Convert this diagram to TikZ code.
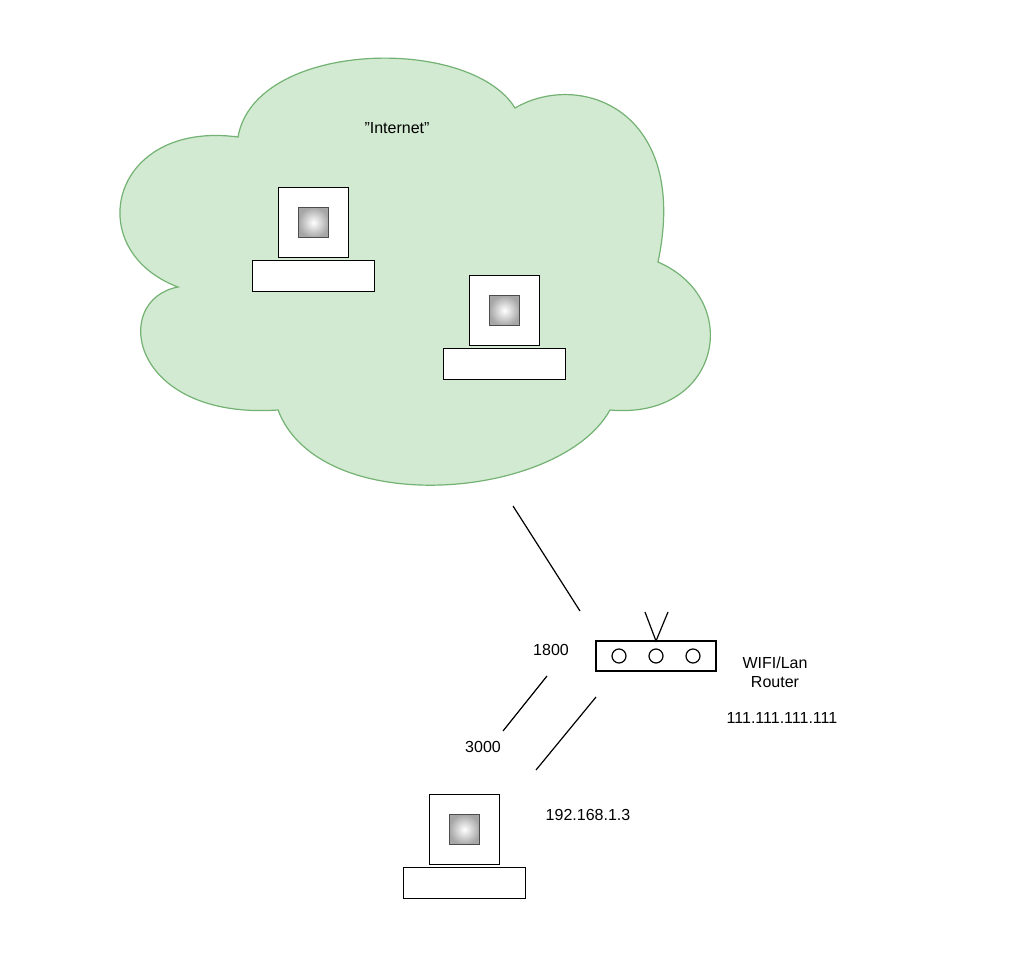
\documentclass[tikz,border=0pt]{standalone}
\usepackage{fontspec}
\setmainfont{Liberation Sans}
\begin{document}
\begin{tikzpicture}[x=0.75pt,y=-0.75pt,
  box/.style={draw=black,fill=white,line width=0.9pt},
  scr/.style={draw=black!70,inner color=white,outer color=black!35,line width=0.6pt},
  link/.style={draw=black,line width=0.9pt},
  lbl/.style={font=\fontsize{12}{14}\selectfont,align=center}]
\useasboundingbox (0,0) rectangle (1024,963);
% cloud
\draw[fill=green!55!black!18,draw=green!45!black!55,line width=0.9pt]
 (238,137) .. controls (255,40) and (470,35) .. (515,108)
 .. controls (580,70) and (690,110) .. (658,262)
 .. controls (745,300) and (720,420) .. (610,410)
 .. controls (560,500) and (320,520) .. (278,410)
 .. controls (130,420) and (110,300) .. (178,287)
 .. controls (80,250) and (110,120) .. (238,137) -- cycle;
\node[lbl] (inet) at (397,128) {"Internet"};
% computers
\newcommand{\pc}[3]{%
 \node[box,minimum width=91.5pt,minimum height=23pt,inner sep=0pt] (#1b) at (#2,#3+89) {};
 \node[box,minimum width=53pt,minimum height=53pt,inner sep=0pt] (#1m) at (#2,#3+35.5) {};
 \node[scr,minimum width=23pt,minimum height=23pt,inner sep=0pt] (#1s) at (#2,#3+35.5) {};}
\pc{a}{313.5}{187}
\pc{b}{504.5}{275}
\pc{c}{464.5}{794}
% router
\node[box,minimum width=90pt,minimum height=22.5pt,inner sep=0pt] (r) at (656,656) {};
\foreach \x/\n in {619/r1,656/r2,693/r3}
  \node[draw,circle,line width=0.9pt,minimum size=10.5pt,inner sep=0pt] (\n) at (\x,656) {};
\coordinate (ant) at (656,641);
\coordinate (antl) at (645,612);
\coordinate (antr) at (668,612);
\draw[link] (antl) -- (ant) -- (antr);
% links
\coordinate (l1a) at (513,506); \coordinate (l1b) at (580,611);
\coordinate (l2a) at (547,676); \coordinate (l2b) at (503,731);
\coordinate (l3a) at (596,697); \coordinate (l3b) at (536,770);
\draw[link] (l1a) -- (l1b);
\draw[link] (l2a) -- (l2b);
\draw[link] (l3a) -- (l3b);
% labels
\node[lbl] (t1800) at (551,650) {1800};
\node[lbl] (t3000) at (483,747) {3000};
\node[lbl] (rt) at (775,672) {WIFI/Lan\\Router};
\node[lbl] (ip1) at (782,718) {111.111.111.111};
\node[lbl] (ip2) at (588,815) {192.168.1.3};
\end{tikzpicture}
\end{document}
